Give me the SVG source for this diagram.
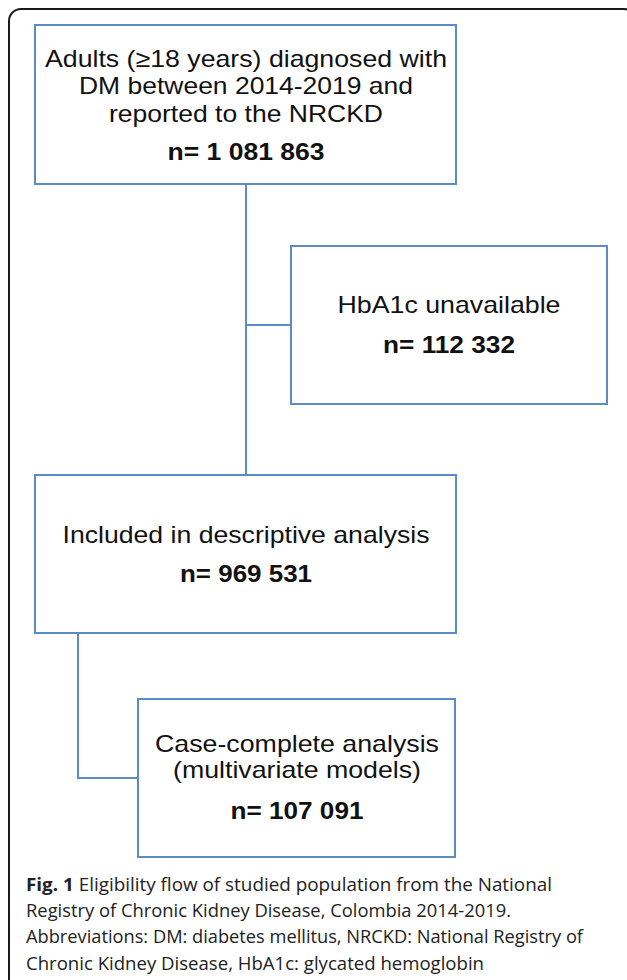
<svg xmlns="http://www.w3.org/2000/svg" width="627" height="980" viewBox="0 0 627 980">
<style>
.box{fill:#fff;stroke:#5b8bc9;stroke-width:2}
.conn{fill:none;stroke:#5b8bc9;stroke-width:2}
.t{font-family:"Liberation Sans",Arial,sans-serif;font-size:24px;fill:#111;text-anchor:middle}
.b{font-weight:bold}
.cap{font-family:"Open Sans","Noto Sans",sans-serif;font-size:18px;fill:#222}
</style>
<rect width="627" height="980" fill="#fff"/>
<rect x="9" y="9" width="627" height="1000" rx="12" ry="12" fill="none" stroke="#1a1a1a" stroke-width="2"/>
<g id="connectors">
<path class="conn" d="M246,184 V475"/>
<path class="conn" d="M246,325 H291"/>
<path class="conn" d="M78,633 V778 H138"/>
</g>
<g id="n1">
<rect class="box" x="35" y="25" width="421" height="159"/>
<text class="t" x="246" y="67" textLength="402" lengthAdjust="spacingAndGlyphs">Adults (≥18 years) diagnosed with</text>
<text class="t" x="246" y="94" textLength="334" lengthAdjust="spacingAndGlyphs">DM between 2014-2019 and</text>
<text class="t" x="246" y="122" textLength="274" lengthAdjust="spacingAndGlyphs">reported to the NRCKD</text>
<text class="t b" x="246" y="160" textLength="157" lengthAdjust="spacingAndGlyphs">n= 1 081 863</text>
</g>
<g id="n2">
<rect class="box" x="291" y="246" width="316" height="158"/>
<text class="t" x="449" y="313" textLength="223" lengthAdjust="spacingAndGlyphs">HbA1c unavailable</text>
<text class="t b" x="449" y="353" textLength="132" lengthAdjust="spacingAndGlyphs">n= 112 332</text>
</g>
<g id="n3">
<rect class="box" x="35" y="475" width="421" height="158"/>
<text class="t" x="246" y="543" textLength="367" lengthAdjust="spacingAndGlyphs">Included in descriptive analysis</text>
<text class="t b" x="246" y="582" textLength="132" lengthAdjust="spacingAndGlyphs">n= 969 531</text>
</g>
<g id="n4">
<rect class="box" x="138" y="699" width="317" height="158"/>
<text class="t" x="297" y="752" textLength="284" lengthAdjust="spacingAndGlyphs">Case-complete analysis</text>
<text class="t" x="297" y="778" textLength="248" lengthAdjust="spacingAndGlyphs">(multivariate models)</text>
<text class="t b" x="297" y="819" textLength="133" lengthAdjust="spacingAndGlyphs">n= 107 091</text>
</g>
<g id="caption">
<text class="cap" x="26" y="891" textLength="526" lengthAdjust="spacingAndGlyphs"><tspan font-weight="bold">Fig. 1</tspan> Eligibility flow of studied population from the National</text>
<text class="cap" x="26" y="917" textLength="485" lengthAdjust="spacingAndGlyphs">Registry of Chronic Kidney Disease, Colombia 2014-2019.</text>
<text class="cap" x="26" y="943" textLength="557" lengthAdjust="spacingAndGlyphs">Abbreviations: DM: diabetes mellitus, NRCKD: National Registry of</text>
<text class="cap" x="26" y="970" textLength="458" lengthAdjust="spacingAndGlyphs">Chronic Kidney Disease, HbA1c: glycated hemoglobin</text>
</g>
</svg>
